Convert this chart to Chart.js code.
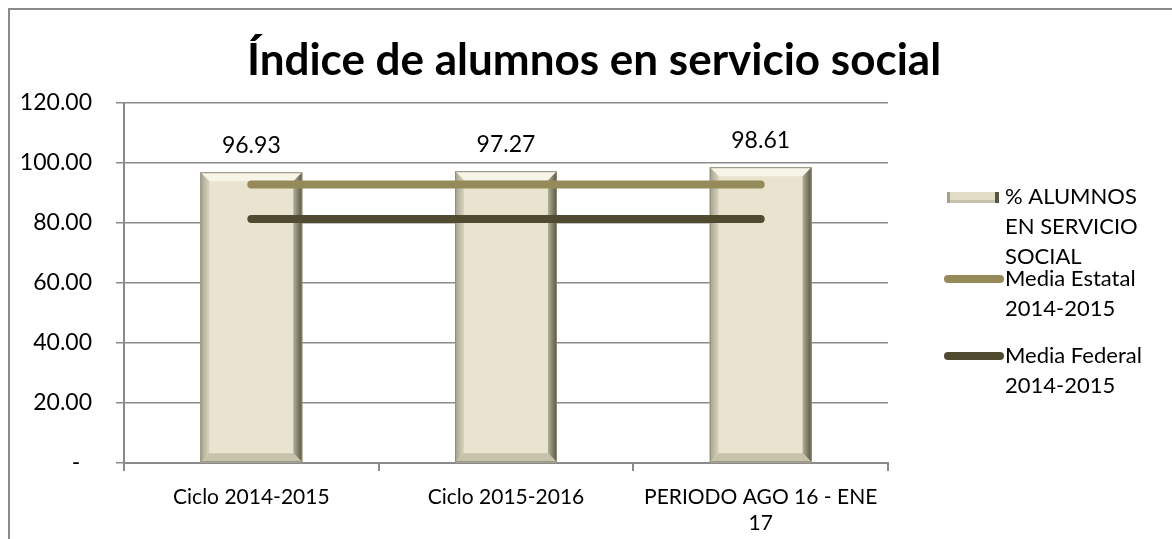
<!DOCTYPE html>
<html lang="es">

<head>
    <meta charset="UTF-8">
    <title>Índice de alumnos en servicio social</title>
    <script src="https://cdn.jsdelivr.net/npm/chart.js"></script>
    <style>
        html, body { margin: 0; padding: 0; background: #fff; }
        #wrap { width: 1172px; height: 539px; position: relative; }
    </style>
</head>

<body>
    <div id="wrap">
        <canvas id="grafico"></canvas>
    </div>
</body>

</html>
<script>
    // datos
    var categorias = ['Ciclo 2014-2015', 'Ciclo 2015-2016', ['PERIODO AGO 16 - ENE', '17']];
    var alumnos = [96.93, 97.27, 98.61];
    var mediaEstatal = [92.8, 92.8, 92.8];
    var mediaFederal = [81.3, 81.3, 81.3];
    var ticksY = [0, 20, 40, 60, 80, 100, 120];

    var titulo = 'Índice de alumnos en servicio social';
    var fuente = 'Lato, Carlito, Calibri, sans-serif';

    // marco exterior + titulo
    const marco = {
        id: 'marco',
        beforeDraw(chart) {
            const c = chart.ctx;
            c.save();
            c.fillStyle = '#fff';
            c.fillRect(0, 0, chart.width, chart.height);
            c.strokeStyle = '#8a8a8a';
            c.lineWidth = 2;
            c.beginPath();
            c.moveTo(chart.width + 2, 9);
            c.lineTo(9, 9);
            c.lineTo(9, chart.height + 2);
            c.stroke();
            c.fillStyle = '#000';
            c.font = 'bold 44px ' + fuente;
            c.textAlign = 'center';
            c.textBaseline = 'alphabetic';
            c.fillText(titulo, 594, 75);
            c.restore();
        }
    };

    // bisel de las barras y etiquetas de valor
    const bisel = {
        id: 'bisel',
        afterDatasetDraw(chart, args) {
            if (args.index !== 0) return;
            const c = chart.ctx;
            const b = 9;
            args.meta.data.forEach(function (bar, i) {
                const x0 = bar.x - bar.width / 2, x1 = bar.x + bar.width / 2;
                const y0 = bar.y, y1 = bar.base;
                c.save();
                // arriba
                c.fillStyle = '#f7f4e8';
                c.beginPath();
                c.moveTo(x0, y0); c.lineTo(x1, y0); c.lineTo(x1 - b, y0 + b); c.lineTo(x0 + b, y0 + b); c.closePath();
                c.fill();
                // izquierda
                var g = c.createLinearGradient(x0, 0, x0 + b, 0);
                g.addColorStop(0, '#a5a18c');
                g.addColorStop(1, '#d8d4c0');
                c.fillStyle = g;
                c.beginPath();
                c.moveTo(x0, y0); c.lineTo(x0 + b, y0 + b); c.lineTo(x0 + b, y1 - b); c.lineTo(x0, y1); c.closePath();
                c.fill();
                // derecha
                g = c.createLinearGradient(x1 - b, 0, x1, 0);
                g.addColorStop(0, '#b3af99');
                g.addColorStop(1, '#57543f');
                c.fillStyle = g;
                c.beginPath();
                c.moveTo(x1, y0); c.lineTo(x1 - b, y0 + b); c.lineTo(x1 - b, y1 - b); c.lineTo(x1, y1); c.closePath();
                c.fill();
                // abajo
                c.fillStyle = '#c6c2ab';
                c.beginPath();
                c.moveTo(x0, y1); c.lineTo(x0 + b, y1 - b); c.lineTo(x1 - b, y1 - b); c.lineTo(x1, y1); c.closePath();
                c.fill();
                c.strokeStyle = '#8f8b77';
                c.lineWidth = 1;
                c.strokeRect(x0 + 0.5, y0 + 0.5, bar.width - 1, y1 - y0 - 1);
                c.restore();
            });
        },
        afterDatasetsDraw(chart) {
            const c = chart.ctx;
            const meta = chart.getDatasetMeta(0);
            c.save();
            c.fillStyle = '#000';
            c.font = '23px ' + fuente;
            c.textAlign = 'center';
            c.textBaseline = 'middle';
            meta.data.forEach(function (bar, i) {
                c.fillText(alumnos[i].toFixed(2), bar.x, bar.y - 27);
            });
            c.restore();
        }
    };

    // leyenda a la derecha
    const leyenda = {
        id: 'leyenda',
        afterDraw(chart) {
            const c = chart.ctx;
            const items = [
                { tipo: 'barra', lineas: ['% ALUMNOS', 'EN SERVICIO', 'SOCIAL'], y: 197 },
                { tipo: 'linea', color: '#958b5a', lineas: ['Media Estatal', '2014-2015'], y: 279 },
                { tipo: 'linea', color: '#4f4a30', lineas: ['Media Federal', '2014-2015'], y: 356 }
            ];
            c.save();
            items.forEach(function (it) {
                if (it.tipo === 'barra') {
                    c.fillStyle = '#e2ddc6';
                    c.fillRect(947, it.y - 5, 52, 11);
                    c.fillStyle = '#a5a18c';
                    c.fillRect(947, it.y - 5, 3, 11);
                    c.fillStyle = '#57543f';
                    c.fillRect(995, it.y - 5, 4, 11);
                    c.fillStyle = '#c6c2ab';
                    c.fillRect(950, it.y + 3, 45, 3);
                } else {
                    c.strokeStyle = it.color;
                    c.lineWidth = 8;
                    c.lineCap = 'round';
                    c.beginPath();
                    c.moveTo(948, it.y);
                    c.lineTo(1000, it.y);
                    c.stroke();
                }
                c.fillStyle = '#000';
                c.font = '22px ' + fuente;
                c.textAlign = 'left';
                c.textBaseline = 'middle';
                it.lineas.forEach(function (t, k) {
                    c.fillText(t, 1005, it.y + k * 30);
                });
            });
            c.restore();
        }
    };

    new Chart(document.getElementById('grafico'), {
        data: {
            labels: categorias,
            datasets: [{
                type: 'bar',
                label: '% ALUMNOS EN SERVICIO SOCIAL',
                data: alumnos,
                backgroundColor: '#e9e4cf',
                borderWidth: 0,
                categoryPercentage: 0.4,
                barPercentage: 1,
                order: 2
            }, {
                type: 'line',
                label: 'Media Estatal 2014-2015',
                data: mediaEstatal,
                borderColor: '#958b5a',
                borderWidth: 8,
                borderCapStyle: 'round',
                pointRadius: 0,
                fill: false,
                order: 1
            }, {
                type: 'line',
                label: 'Media Federal 2014-2015',
                data: mediaFederal,
                borderColor: '#4f4a30',
                borderWidth: 8,
                borderCapStyle: 'round',
                pointRadius: 0,
                fill: false,
                order: 0
            }]
        },
        options: {
            responsive: true,
            maintainAspectRatio: false,
            animation: false,
            layout: {
                padding: { left: 0, right: 284, top: 103, bottom: 0 }
            },
            plugins: {
                legend: { display: false },
                title: { display: false },
                tooltip: { enabled: false }
            },
            scales: {
                x: {
                    offset: true,
                    grid: {
                        offset: true,
                        drawOnChartArea: false,
                        color: '#8a8a8a',
                        lineWidth: 2,
                        tickLength: 8
                    },
                    border: { color: '#8a8a8a', width: 2 },
                    ticks: {
                        color: '#000',
                        padding: 14,
                        maxRotation: 0,
                        autoSkip: false,
                        font: { family: fuente, size: 21 }
                    },
                    afterFit(scale) { scale.height = 76; }
                },
                y: {
                    min: 0,
                    max: 120,
                    afterBuildTicks(scale) {
                        scale.ticks = ticksY.map(v => ({ value: v }));
                    },
                    grid: {
                        color: '#8a8a8a',
                        lineWidth: 1.5,
                        tickLength: 8
                    },
                    border: { color: '#8a8a8a', width: 2 },
                    ticks: {
                        color: '#000',
                        padding: 24,
                        font: { family: fuente, size: 23 },
                        callback: function (v) { return v === 0 ? '-  ' : v.toFixed(2); }
                    },
                    afterFit(scale) { scale.width = 124; }
                }
            }
        },
        plugins: [marco, bisel, leyenda]
    });
</script>
